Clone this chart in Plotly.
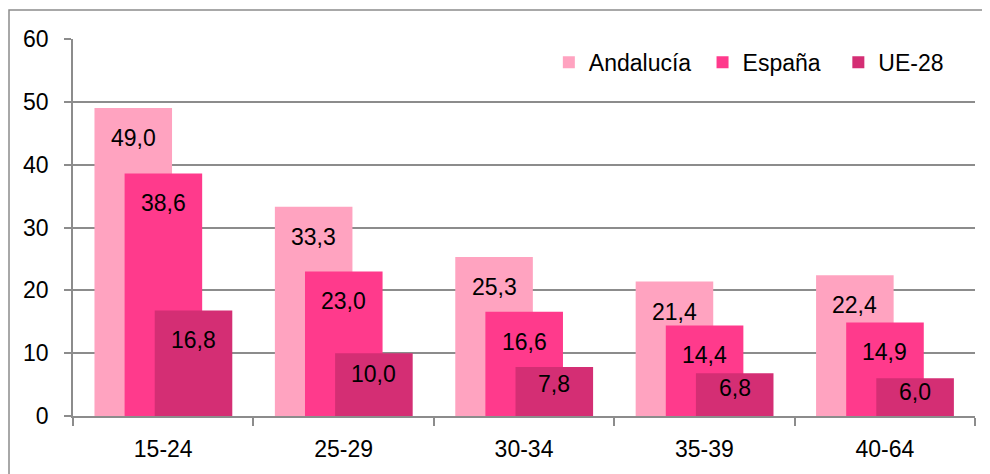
import plotly.graph_objects as go

categories = ["15-24", "25-29", "30-34", "35-39", "40-64"]
andalucia = [49.0, 33.3, 25.3, 21.4, 22.4]
espana = [38.6, 23.0, 16.6, 14.4, 14.9]
ue28 = [16.8, 10.0, 7.8, 6.8, 6.0]
series_names = ["Andalucía", "España", "UE-28"]

colors = ["#FFA3C0", "#FF3A8C", "#D42E74"]
offsets = [-0.381, -0.214, -0.047]
width = 0.43
FONT = "Liberation Sans, Arial, sans-serif"
FS = 23

# page body has an 8px margin, so the figure is sized/offset to compensate
W, H = 982, 466
ML, MR, MT, MB = 65, 15, 31, 58
plot_h = H - MT - MB
plot_w = W - ML - MR
ymax = 60
pad = ["\u00a0", "\u00a0\u00a0", ""]

fig = go.Figure()
annotations = []
for name, vals, col, off, p in zip(series_names, [andalucia, espana, ue28], colors, offsets, pad):
    fig.add_trace(go.Bar(
        name=name + p, x=categories, y=vals, width=width, offset=off,
        marker=dict(color=col, line=dict(width=0)),
    ))
    for i, v in enumerate(vals):
        hpx = v / ymax * plot_h
        gap = min(20, max(3, hpx * 0.3 - 8))
        annotations.append(dict(
            x=i + off + width / 2, y=v, xref="x", yref="y",
            text=f"{v:.1f}".replace(".", ","), showarrow=False,
            yanchor="top", xanchor="center", yshift=-(gap - 5),
            font=dict(family=FONT, size=FS, color="#000000"),
        ))

fig.update_layout(
    width=W, height=H,
    margin=dict(l=ML, r=MR, t=MT, b=MB, autoexpand=False),
    paper_bgcolor="white", plot_bgcolor="white",
    barmode="overlay",
    font=dict(family=FONT, size=FS, color="#000000"),
    showlegend=True,
    legend=dict(
        orientation="h", x=0.971, xanchor="right", y=0.995, yanchor="top",
        bgcolor="rgba(0,0,0,0)", font=dict(family=FONT, size=FS),
        itemwidth=30, traceorder="normal",
    ),
    annotations=annotations,
    shapes=[dict(
        type="rect", xref="paper", yref="paper",
        x0=(1 - ML) / plot_w, x1=1.2,
        y0=-0.5, y1=(H - MB - 2) / plot_h,
        line=dict(color="#8C8C8C", width=1.5), fillcolor="rgba(0,0,0,0)",
        layer="below",
    )],
)
fig.update_xaxes(
    type="category", range=[-0.5, 4.5], automargin=False,
    showline=True, linecolor="#8C8C8C", linewidth=1.5,
    ticks="outside", tickson="boundaries", ticklen=8, tickcolor="#8C8C8C", tickwidth=1.5,
    showgrid=False, ticklabelstandoff=12,
    tickfont=dict(family=FONT, size=FS),
)
fig.update_yaxes(
    range=[0, ymax], dtick=10, automargin=False,
    showline=True, linecolor="#8C8C8C", linewidth=1.5,
    ticks="outside", ticklen=7, tickcolor="#8C8C8C", tickwidth=1.5,
    showgrid=True, gridcolor="#8C8C8C", gridwidth=1.5,
    zeroline=False, ticklabelstandoff=11,
    tickfont=dict(family=FONT, size=FS),
)

fig.write_html("out.html")
